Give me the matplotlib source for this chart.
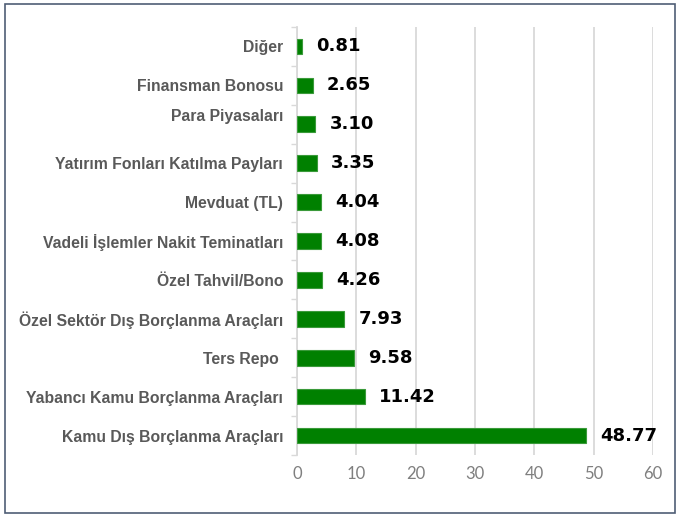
import matplotlib.pyplot as plt
from matplotlib.patches import Rectangle
from matplotlib.transforms import ScaledTranslation
import numpy as np

categories = ["Diğer", "Finansman Bonosu", "Para Piyasaları",
              "Yatırım Fonları Katılma Payları", "Mevduat (TL)",
              "Vadeli İşlemler Nakit Teminatları", "Özel Tahvil/Bono",
              "Özel Sektör Dış Borçlanma Araçları", "Ters Repo ",
              "Yabancı Kamu Borçlanma Araçları", "Kamu Dış Borçlanma Araçları"]
values = [0.81, 2.65, 3.10, 3.35, 4.04, 4.08, 4.26, 7.93, 9.58, 11.42, 48.77]
xticks = [0, 10, 20, 30, 40, 50, 60]

fig = plt.figure(figsize=(6.8, 5.16), dpi=100)
ax = fig.add_axes([297/680, 1-455/516, 356/680, 428/516])

y = np.arange(len(categories))
ax.barh(y, values, height=0.4, color="#008000", edgecolor="#3a9a3a", linewidth=0.8, zorder=3)

for yi, v in zip(y, values):
    ax.text(v + 2.4, yi, f"{v:.2f}", va="center", ha="left", fontsize=13,
            fontweight="bold", family="DejaVu Sans", color="black")

ax.set_ylim(len(categories) - 0.5, -0.5)
ax.set_xlim(0, 60)
ax.set_xticks(xticks)
ax.set_yticks(y)
ax.set_yticklabels(categories, fontsize=11.3, fontweight="bold",
                   family="Liberation Sans", color="#595959")
ax.set_yticks(np.arange(-0.5, len(categories)), minor=True)
ax.tick_params(axis="y", which="major", length=0, pad=10)
ax.tick_params(axis="y", which="minor", length=4, color="#d9d9d9", width=1)
ax.tick_params(axis="x", length=0, pad=8, labelsize=12, labelcolor="#7f7f7f")
for lab in ax.get_xticklabels():
    lab.set_family("Lato")

# Para Piyasaları label sits a little higher in the original
lab = ax.get_yticklabels()[2]
lab.set_transform(lab.get_transform() + ScaledTranslation(0, 9/100, fig.dpi_scale_trans))

ax.grid(axis="x", color="#d9d9d9", linewidth=1.3, zorder=0)
for s in ["top", "right", "bottom"]:
    ax.spines[s].set_visible(False)
ax.spines["left"].set_color("#d9d9d9")
ax.spines["left"].set_linewidth(1.3)

fig.patches.append(Rectangle((5/680, 3/516), 670/680, 509/516, transform=fig.transFigure,
                             fill=False, edgecolor="#4f5d75", linewidth=1.2))

fig.savefig("out.png", dpi=100)
